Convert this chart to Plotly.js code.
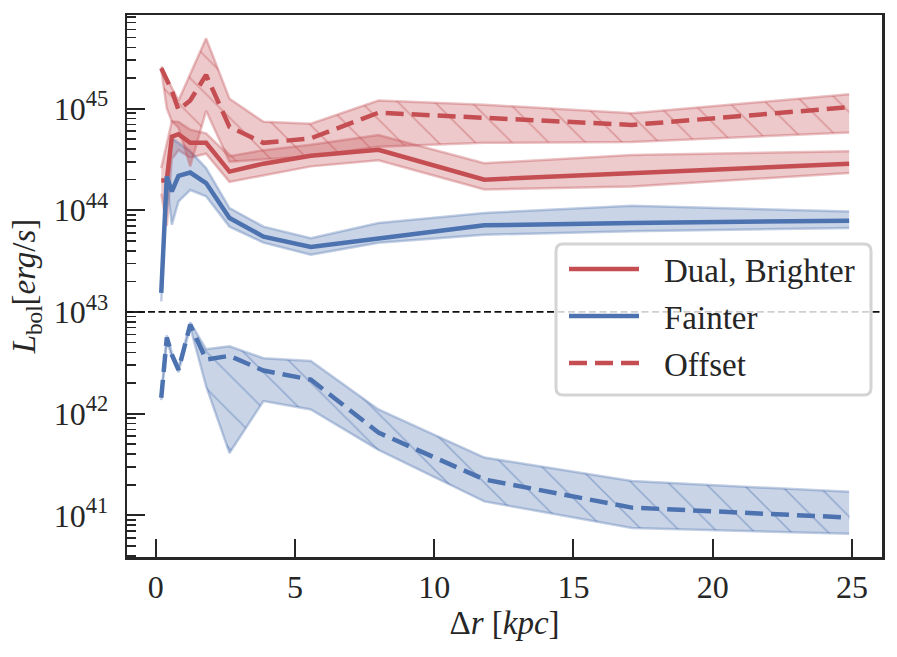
<!DOCTYPE html>
<html>
<head>
<meta charset="utf-8">
<script src="https://cdn.plot.ly/plotly-3.0.1.min.js"></script>
<style>
  html, body { margin: 0; padding: 0; background: #fff; }
  #chart { width: 897px; height: 657px; }
</style>
</head>
<body>
<div id="chart"></div>
<script>
// projected separation of the pair [kpc]
const sepKpc = [0.2, 0.4, 0.58, 0.82, 1.24, 1.81, 2.65, 3.87, 5.57, 8.0, 11.8, 17.1, 24.9];

// dual AGN - brighter member [erg/s]
const dualMid = [1.96e44, 1.97e44, 5.3e44, 5.6e44, 4.6e44, 4.6e44, 2.4e44, 2.87e44, 3.43e44, 3.93e44, 2.0e44, 2.32e44, 2.87e44];
const dualHi = [2.6e44, 4.5e44, 7.5e44, 7.4e44, 6.2e44, 5.7e44, 3.4e44, 3.9e44, 4.4e44, 5.5e44, 2.9e44, 3.5e44, 3.8e44];
const dualLo = [1.45e44, 7.0e43, 3.2e44, 3.9e44, 3.3e44, 3.6e44, 1.9e44, 2.2e44, 2.7e44, 3.1e44, 1.6e44, 1.71e44, 2.32e44];

// dual AGN - fainter member
const faintMid = [1.54e43, 2.15e44, 1.53e44, 2.18e44, 2.35e44, 1.85e44, 8.4e43, 5.5e43, 4.35e43, 5.3e43, 7.1e43, 7.5e43, 7.9e43];
const faintHi = [1.78e43, 2.4e44, 5.1e44, 4.6e44, 3.8e44, 2.6e44, 1.05e44, 6.9e43, 5.3e43, 7.5e43, 9.4e43, 1.11e44, 9.7e43];
const faintLo = [1.27e43, 1.9e44, 7.2e43, 1.22e44, 1.58e44, 1.37e44, 6.9e43, 4.8e43, 3.65e43, 4.8e43, 5.75e43, 6.2e43, 6.7e43];

// offset AGN - brighter
const offMid = [2.5e45, 1.9e45, 1.5e45, 9.7e44, 1.2e45, 2.14e45, 6.6e44, 4.6e44, 5.1e44, 9.1e44, 8.1e44, 6.9e44, 1.03e45];
const offHi = [2.6e45, 2.0e45, 1.6e45, 1.2e45, 2.2e45, 4.9e45, 1.25e45, 7.4e44, 7.1e44, 1.2e45, 1.09e45, 9.0e44, 1.38e45];
const offLo = [2.4e45, 1.0e45, 7.5e44, 6.5e44, 2.7e44, 9.5e44, 3.0e44, 3.15e44, 3.4e44, 4.2e44, 4.6e44, 4.7e44, 5.8e44];

// offset AGN - fainter
const offFaintMid = [1.43e42, 5.6e42, 3.8e42, 2.7e42, 7.5e42, 3.4e42, 3.7e42, 2.65e42, 2.16e42, 6.5e41, 2.25e41, 1.19e41, 9.5e40];
const offFaintHi = [1.5e42, 5.9e42, 4.0e42, 2.85e42, 7.9e42, 4.3e42, 4.6e42, 3.5e42, 3.3e42, 1.1e42, 3.7e41, 2.17e41, 1.7e41];
const offFaintLo = [1.36e42, 5.3e42, 3.6e42, 2.55e42, 7.1e42, 1.86e42, 4.1e41, 1.33e42, 1.1e42, 4.4e41, 1.37e41, 7.5e40, 6.6e40];

const refLevel = 1e43; // split between the two groups
const legendLabels = ["Dual, Brighter", "Fainter", "Offset"];
const yTickExp = [41, 42, 43, 44, 45];

const RED = "196,78,82";
const BLUE = "76,114,176";
const rgba = (c, a) => `rgba(${c},${a})`;
const INK = "#262626";
const FONT = "Liberation Serif, Times New Roman, serif";

// shaded band between lo and hi (optionally hatched)
function band(lo, hi, col, hatch) {
  const edge = { color: rgba(col, 0.35), width: 2.5 };
  const upper = {
    x: sepKpc, y: hi, mode: "lines", line: edge,
    fill: "tonexty", fillcolor: rgba(col, 0.3),
    showlegend: false, hoverinfo: "skip",
  };
  if (hatch) {
    upper.fillpattern = {
      shape: "\\", size: 26, solidity: 0.06,
      bgcolor: rgba(col, 0.3), fgcolor: rgba(col, 0.45), fgopacity: 1,
    };
  }
  return [
    { x: sepKpc, y: lo, mode: "lines", line: edge, showlegend: false, hoverinfo: "skip" },
    upper,
  ];
}

function mainLine(y, col, dash) {
  return {
    x: sepKpc, y: y, mode: "lines", showlegend: false,
    line: { color: rgba(col, 1), width: 4.5, dash: dash || "solid" },
  };
}

const data = [
  ...band(dualLo, dualHi, RED, false),
  ...band(faintLo, faintHi, BLUE, false),
  ...band(offLo, offHi, RED, true),
  ...band(offFaintLo, offFaintHi, BLUE, true),
  mainLine(dualMid, RED),
  mainLine(faintMid, BLUE),
  mainLine(offMid, RED, "18px,8px"),
  mainLine(offFaintMid, BLUE, "18px,8px"),
];

// minor ticks 2..9 per decade
const minorVals = [];
for (let e = 40; e <= 45; e++) {
  for (let m = 2; m <= 9; m++) minorVals.push(m * Math.pow(10, e));
}

// plot box in pixels, used for the hand-drawn legend
const L = 127, R = 882, T = 15, B = 557;
const px = (v) => (v - L) / (R - L);
const py = (v) => (B - v) / (B - T);

function roundRect(x0p, y0p, x1p, y1p, r) {
  const x0 = px(x0p), x1 = px(x1p), yt = py(y0p), yb = py(y1p);
  const rx = r / (R - L), ry = r / (B - T);
  return `M${x0 + rx},${yt} L${x1 - rx},${yt} Q${x1},${yt} ${x1},${yt - ry} ` +
    `L${x1},${yb + ry} Q${x1},${yb} ${x1 - rx},${yb} L${x0 + rx},${yb} ` +
    `Q${x0},${yb} ${x0},${yb + ry} L${x0},${yt - ry} Q${x0},${yt} ${x0 + rx},${yt} Z`;
}

const legendRows = [269, 316, 363];
const legendStyle = [[RED, "solid"], [BLUE, "solid"], [RED, "18px,8px"]];

const shapes = [
  {
    type: "line", xref: "paper", yref: "y", x0: 0, x1: 1, y0: refLevel, y1: refLevel,
    line: { color: "#111", width: 1.8, dash: "7px,3.5px" },
  },
  {
    type: "path", xref: "paper", yref: "paper",
    path: roundRect(556, 244, 871, 395, 7),
    fillcolor: "rgba(255,255,255,0.8)", line: { color: "#d4d4d4", width: 3 },
  },
];
const annotations = [];
legendRows.forEach((row, i) => {
  shapes.push({
    type: "line", xref: "paper", yref: "paper",
    x0: px(569), x1: px(639), y0: py(row), y1: py(row),
    line: { color: rgba(legendStyle[i][0], 1), width: 4.5, dash: legendStyle[i][1] },
  });
  annotations.push({
    xref: "paper", yref: "paper", x: px(662), y: py(row + 2),
    xanchor: "left", yanchor: "middle", showarrow: false,
    text: legendLabels[i], font: { family: FONT, size: 33, color: INK },
  });
});

const axisBase = {
  showline: true, linecolor: INK, linewidth: 2.5, mirror: true,
  showgrid: false, zeroline: false,
  ticks: "inside", ticklen: 18, tickwidth: 2, tickcolor: INK,
  tickfont: { family: FONT, size: 32, color: INK },
};

const layout = {
  width: 897, height: 657,
  margin: { l: L, r: 897 - R, t: T, b: 657 - B },
  paper_bgcolor: "#fff", plot_bgcolor: "#fff",
  showlegend: false,
  font: { family: FONT, size: 32, color: INK },
  xaxis: {
    ...axisBase,
    range: [-1.03, 26.08], tick0: 0, dtick: 5,
    ticklabelstandoff: 0,
    title: { text: "Δ<i>r</i> [<i>kpc</i>]", font: { family: FONT, size: 33, color: INK }, standoff: 4 },
  },
  yaxis: {
    ...axisBase,
    type: "log", range: [40.59, 45.92],
    tickmode: "array",
    tickvals: yTickExp.map((e) => Math.pow(10, e)),
    ticktext: yTickExp.map((e) => `10<sup>${e}</sup>`),
    ticklabelstandoff: 10,
    minor: { tickvals: minorVals, ticks: "inside", ticklen: 9, tickwidth: 1.6, tickcolor: INK, showgrid: false },
    title: { text: "<i>L</i><sub>bol</sub>[<i>erg</i>/<i>s</i>]", font: { family: FONT, size: 33, color: INK }, standoff: 8 },
  },
  shapes: shapes,
  annotations: annotations,
};

Plotly.newPlot("chart", data, layout, { displayModeBar: false, staticPlot: true });
</script>
</body>
</html>
